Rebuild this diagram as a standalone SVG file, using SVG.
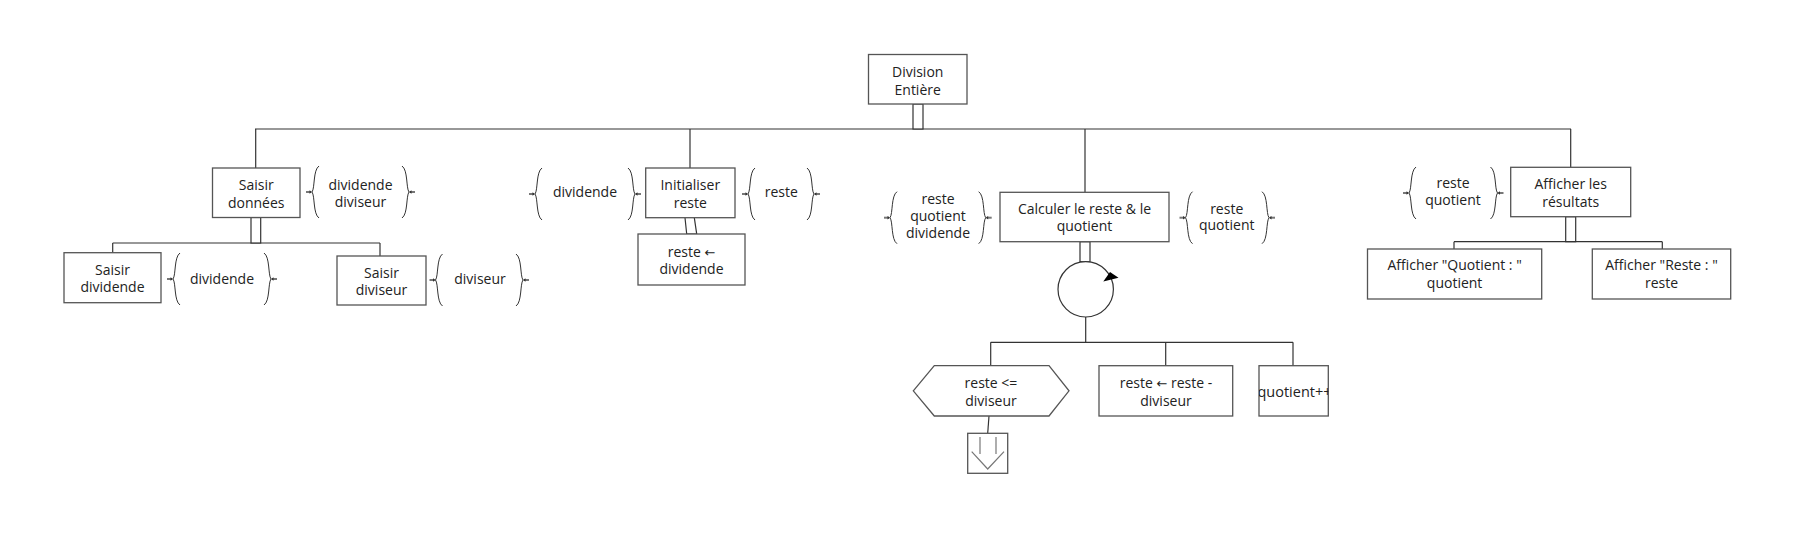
<svg xmlns="http://www.w3.org/2000/svg" xmlns:xlink="http://www.w3.org/1999/xlink" width="1796" height="534" viewBox="0 0 1796 534">
<style>
  .box { fill: #fff; stroke: #555; stroke-width: 1.3; }
  .ln { fill: none; stroke: #333; stroke-width: 1.2; }
  .stem { fill: #fff; stroke: #333; stroke-width: 1.2; }
  .br { fill: none; stroke: #333; stroke-width: 1; }
  .ar { fill: none; stroke: #777; stroke-width: 2; }
  .t { font-family: "Open Sans", "Noto Sans", sans-serif; font-size: 14px; fill: #222; text-anchor: middle; }
  .arw { font-family: "DejaVu Sans", sans-serif; font-size: 13px; }
</style>
<defs>
  <g id="lb">
    <path class="br" d="M 7,0 C 1,4 3,22 0,26 C 3,30 1,48 7,52"/>
    <line class="ar" x1="-6" y1="26" x2="-1" y2="26"/>
    <path d="M -2.5,24.3 L 0,26 L -2.5,27.7 Z" fill="#333"/>
  </g>
  <g id="rb">
    <path class="br" d="M -7,0 C -1,4 -3,22 0,26 C -3,30 -1,48 -7,52"/>
    <line class="ar" x1="6" y1="26" x2="1" y2="26"/>
    <path d="M 2.5,24.3 L 0,26 L 2.5,27.7 Z" fill="#333"/>
  </g>
  <clipPath id="qclip"><rect x="1259" y="365.7" width="69.3" height="50.3"/></clipPath>
</defs>

<g id="connectors">
  <line class="ln" x1="255" y1="129" x2="1571" y2="129"/>
  <line class="ln" x1="255.7" y1="129" x2="255.7" y2="168"/>
  <line class="ln" x1="690" y1="129" x2="690" y2="168"/>
  <line class="ln" x1="1085" y1="129" x2="1085" y2="192.3"/>
  <line class="ln" x1="1570.7" y1="129" x2="1570.7" y2="167.3"/>
  <rect class="stem" x="913" y="104" width="10" height="25"/>
  <line class="ln" x1="112.7" y1="243" x2="380" y2="243"/>
  <line class="ln" x1="112.7" y1="243" x2="112.7" y2="252.7"/>
  <line class="ln" x1="380" y1="243" x2="380" y2="256"/>
  <rect class="stem" x="251" y="217.5" width="9.7" height="25.5"/>
  <path class="stem" d="M 685,217.7 L 686.7,234 L 696.7,234 L 694.3,217.7"/>
  <rect class="stem" x="1080" y="241.7" width="10" height="20"/>
  <line class="ln" x1="1085.7" y1="317" x2="1085.7" y2="342.3"/>
  <line class="ln" x1="990.7" y1="342.3" x2="1293" y2="342.3"/>
  <line class="ln" x1="990.7" y1="342.3" x2="990.7" y2="365.7"/>
  <line class="ln" x1="1165.7" y1="342.3" x2="1165.7" y2="365.7"/>
  <line class="ln" x1="1293" y1="342.3" x2="1293" y2="365.7"/>
  <line class="ln" x1="989" y1="416" x2="987.7" y2="433.3"/>
  <rect class="stem" x="1565.7" y="216.7" width="10" height="25"/>
  <line class="ln" x1="1454" y1="241.7" x2="1662.3" y2="241.7"/>
  <line class="ln" x1="1454" y1="241.7" x2="1454" y2="249"/>
  <line class="ln" x1="1662.3" y1="241.7" x2="1662.3" y2="249"/>
</g>

<g id="n-division">
  <rect class="box" x="868.5" y="54.5" width="98.5" height="49.5"/>
  <text class="t" x="917.7" y="77">Division</text>
  <text class="t" x="917.7" y="94.5">Entière</text>
</g>

<g id="n-saisir-donnees">
  <rect class="box" x="212.5" y="168" width="87.5" height="49.5"/>
  <text class="t" x="256.2" y="190">Saisir</text>
  <text class="t" x="256.2" y="207.5">données</text>
</g>
<g id="d-saisir-donnees">
  <use xlink:href="#lb" x="312" y="166"/>
  <use xlink:href="#rb" x="409" y="166"/>
  <text class="t" x="360.5" y="190">dividende</text>
  <text class="t" x="360.5" y="206.5">diviseur</text>
</g>

<g id="n-saisir-dividende">
  <rect class="box" x="64" y="252.7" width="97" height="50"/>
  <text class="t" x="112.5" y="275">Saisir</text>
  <text class="t" x="112.5" y="291.5">dividende</text>
</g>
<g id="d-saisir-dividende">
  <use xlink:href="#lb" x="173" y="253"/>
  <use xlink:href="#rb" x="271" y="253"/>
  <text class="t" x="222" y="283.5">dividende</text>
</g>

<g id="n-saisir-diviseur">
  <rect class="box" x="337" y="256" width="89" height="49"/>
  <text class="t" x="381.5" y="278.3">Saisir</text>
  <text class="t" x="381.5" y="295">diviseur</text>
</g>
<g id="d-saisir-diviseur">
  <use xlink:href="#lb" x="435.5" y="254"/>
  <use xlink:href="#rb" x="523" y="254"/>
  <text class="t" x="480" y="283.5">diviseur</text>
</g>

<g id="n-initialiser">
  <rect class="box" x="645.7" y="168" width="89.3" height="49.7"/>
  <text class="t" x="690.3" y="190">Initialiser</text>
  <text class="t" x="690.3" y="207.5">reste</text>
</g>
<g id="d-initialiser-in">
  <use xlink:href="#lb" x="535" y="168"/>
  <use xlink:href="#rb" x="635" y="168"/>
  <text class="t" x="585" y="197">dividende</text>
</g>
<g id="d-initialiser-out">
  <use xlink:href="#lb" x="748" y="168"/>
  <use xlink:href="#rb" x="814" y="168"/>
  <text class="t" x="781.3" y="197">reste</text>
</g>
<g id="n-reste-dividende">
  <rect class="box" x="638" y="234" width="107" height="51"/>
  <text class="t" x="691.5" y="256.5">reste <tspan class="arw">←</tspan></text>
  <text class="t" x="691.5" y="273.5">dividende</text>
</g>

<g id="n-calculer">
  <rect class="box" x="1000" y="192.3" width="169" height="49.4"/>
  <text class="t" x="1084.5" y="214.3">Calculer le reste &amp; le</text>
  <text class="t" x="1084.5" y="231">quotient</text>
</g>
<g id="d-calculer-in">
  <use xlink:href="#lb" x="890" y="191.7"/>
  <use xlink:href="#rb" x="985.7" y="191.7"/>
  <text class="t" x="938" y="204">reste</text>
  <text class="t" x="938" y="220.7">quotient</text>
  <text class="t" x="938" y="237.7">dividende</text>
</g>
<g id="d-calculer-out">
  <use xlink:href="#lb" x="1185.5" y="191.7"/>
  <use xlink:href="#rb" x="1269" y="191.7"/>
  <text class="t" x="1226.7" y="214.3">reste</text>
  <text class="t" x="1226.7" y="230">quotient</text>
</g>

<g id="n-boucle">
  <circle cx="1085.7" cy="289.3" r="27.7" fill="#fff" stroke="#333" stroke-width="1.2"/>
  <path d="M 1103.3,281.5 L 1110,272 L 1118.5,277.7 Z" fill="#000"/>
</g>

<g id="n-condition">
  <polygon class="box" points="913.3,390.8 934.3,365.7 1049,365.7 1069,390.8 1049,416 934.3,416"/>
  <text class="t" x="991" y="388.3">reste &lt;=</text>
  <text class="t" x="991" y="405.7">diviseur</text>
</g>
<g id="n-sortie">
  <rect class="box" x="967.7" y="433.3" width="40" height="40"/>
  <line x1="980" y1="437" x2="980" y2="454" stroke="#777" stroke-width="1.2"/>
  <line x1="996" y1="437" x2="996" y2="454" stroke="#777" stroke-width="1.2"/>
  <polyline points="971.7,451.7 987.7,469 1004,451.7" fill="none" stroke="#777" stroke-width="1.2"/>
</g>
<g id="n-reste-moins">
  <rect class="box" x="1099" y="365.7" width="133.7" height="50.3"/>
  <text class="t" x="1166" y="388.3">reste <tspan class="arw">←</tspan> reste -</text>
  <text class="t" x="1166" y="405.7">diviseur</text>
</g>
<g id="n-quotient-pp">
  <rect class="box" x="1259" y="365.7" width="69.3" height="50.3"/>
  <text class="t" x="1257.5" y="396.7" style="text-anchor:start" textLength="74" lengthAdjust="spacingAndGlyphs" clip-path="url(#qclip)">quotient++</text>
</g>

<g id="n-afficher">
  <rect class="box" x="1510.7" y="167.3" width="120" height="49.4"/>
  <text class="t" x="1570.7" y="189.3">Afficher les</text>
  <text class="t" x="1570.7" y="206.7">résultats</text>
</g>
<g id="d-afficher">
  <use xlink:href="#lb" x="1409" y="167"/>
  <use xlink:href="#rb" x="1497.5" y="167"/>
  <text class="t" x="1453" y="188.3">reste</text>
  <text class="t" x="1453" y="205">quotient</text>
</g>
<g id="n-afficher-quotient">
  <rect class="box" x="1367.5" y="249" width="174.2" height="50"/>
  <text class="t" x="1454.6" y="270">Afficher "Quotient : "</text>
  <text class="t" x="1454.6" y="287.7">quotient</text>
</g>
<g id="n-afficher-reste">
  <rect class="box" x="1592.3" y="249" width="138.4" height="50"/>
  <text class="t" x="1661.5" y="270">Afficher "Reste : "</text>
  <text class="t" x="1661.5" y="287.7">reste</text>
</g>
</svg>
